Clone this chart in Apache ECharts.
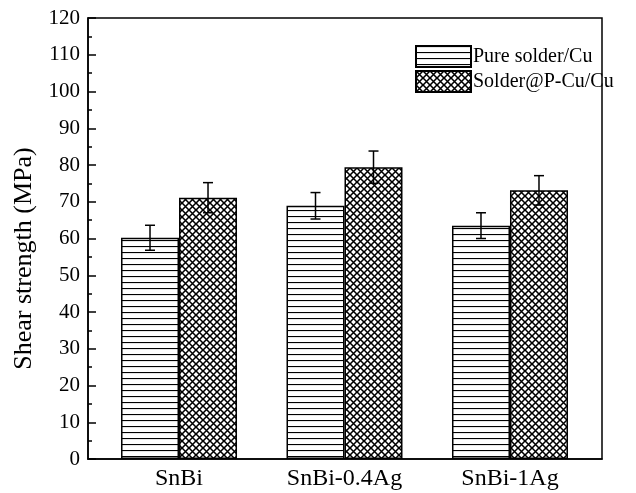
<!DOCTYPE html>
<html>
<head>
<meta charset="utf-8">
<script src="https://cdn.jsdelivr.net/npm/echarts@6/dist/echarts.min.js"></script>
<style>
html,body{margin:0;padding:0;background:#fff;}
#chart{width:636px;height:493px;}
</style>
</head>
<body>
<div id="chart"></div>
<script>
// ---- data ----
const categories = ['SnBi', 'SnBi-0.4Ag', 'SnBi-1Ag'];
const seriesNames = ['Pure solder/Cu', 'Solder@P-Cu/Cu'];
const pureValues = [60.2, 68.9, 63.5];
const pureErrors = [3.4, 3.6, 3.5];
const coatedValues = [71.1, 79.4, 73.1];
const coatedErrors = [4.1, 4.4, 4.0];
const yTicks = [0, 10, 20, 30, 40, 50, 60, 70, 80, 90, 100, 110, 120];

// ---- style ----
const FONT = '"Liberation Serif", "Times New Roman", serif';
const BAR_WIDTH = 58;

function hLinePattern() {
  const c = document.createElement('canvas');
  c.width = 6; c.height = 6;
  const g = c.getContext('2d');
  g.fillStyle = '#fff'; g.fillRect(0, 0, 6, 6);
  g.strokeStyle = '#000'; g.lineWidth = 1.2;
  g.beginPath(); g.moveTo(0, 0.5); g.lineTo(6, 0.5); g.stroke();
  return c;
}
function crossPattern() {
  const s = 7;
  const c = document.createElement('canvas');
  c.width = s; c.height = s;
  const g = c.getContext('2d');
  g.fillStyle = '#fff'; g.fillRect(0, 0, s, s);
  g.strokeStyle = '#000'; g.lineWidth = 1.55;
  g.beginPath();
  g.moveTo(-1, -1); g.lineTo(s + 1, s + 1);
  g.moveTo(s + 1, -1); g.lineTo(-1, s + 1);
  g.stroke();
  return c;
}
const pureFill = { image: hLinePattern(), repeat: 'repeat' };
const crossFill = { image: crossPattern(), repeat: 'repeat' };

const pureData = pureValues.map((v, i) => [i + 1, v]);
const coatedData = coatedValues.map((v, i) => [i + 1, v]);
const errData = [];
pureValues.forEach((v, i) => errData.push([i + 1, v - pureErrors[i], v + pureErrors[i], -1]));
coatedValues.forEach((v, i) => errData.push([i + 1, v - coatedErrors[i], v + coatedErrors[i], 1]));

const chart = echarts.init(document.getElementById('chart'), null, { renderer: 'canvas' });
chart.setOption({
  animation: false,
  backgroundColor: '#fff',
  textStyle: { fontFamily: FONT, color: '#000' },
  grid: {
    left: 88, right: 34, top: 18, bottom: 34,
    show: true, borderColor: '#000', borderWidth: 1.5, backgroundColor: 'transparent'
  },
  legend: {
    orient: 'vertical',
    left: 410, top: 40,
    icon: 'rect',
    itemWidth: 55, itemHeight: 21, itemGap: 2,
    textStyle: { fontFamily: FONT, fontSize: 20, color: '#000', padding: [0, 0, 0, -3] },
    data: seriesNames
  },
  xAxis: {
    type: 'value',
    min: 0.45, max: 3.556,
    splitLine: { show: false },
    axisLine: { lineStyle: { color: '#000', width: 1.5 } },
    axisTick: { show: false },
    axisLabel: {
      customValues: [1, 2, 3],
      formatter: v => categories[Math.round(v) - 1],
      fontFamily: FONT, fontSize: 24, color: '#000', margin: 8
    }
  },
  yAxis: {
    type: 'value',
    min: 0, max: 120, interval: 10,
    name: 'Shear strength (MPa)',
    nameLocation: 'middle',
    nameGap: 50,
    nameTextStyle: { fontFamily: FONT, fontSize: 26, color: '#000', padding: [0, 40, 0, 0] },
    splitLine: { show: false },
    axisLine: { show: true, lineStyle: { color: '#000', width: 1.5 } },
    axisTick: { show: true, inside: true, length: 8, lineStyle: { color: '#000', width: 1.5 } },
    minorTick: { show: true, splitNumber: 2, length: 4, lineStyle: { color: '#000', width: 1.5 } },
    axisLabel: {
      fontFamily: FONT, fontSize: 21, color: '#000', margin: 8,
      customValues: yTicks
    }
  },
  series: [
    {
      name: seriesNames[0], type: 'bar', data: pureData,
      barWidth: BAR_WIDTH, barGap: '0%',
      itemStyle: { color: pureFill, borderColor: '#000', borderWidth: 1.5 }
    },
    {
      name: seriesNames[1], type: 'bar', data: coatedData,
      barWidth: BAR_WIDTH, barGap: '0%',
      itemStyle: { color: crossFill, borderColor: '#000', borderWidth: 1.5 }
    },
    {
      type: 'custom', data: errData, z: 10,
      encode: { x: 0, y: [1, 2] },
      renderItem: function (params, api) {
        const x = api.value(0), lo = api.value(1), hi = api.value(2), side = api.value(3);
        const pLo = api.coord([x, lo]);
        const pHi = api.coord([x, hi]);
        const cx = pLo[0] + side * BAR_WIDTH / 2;
        const cap = 5;
        const st = { stroke: '#000', lineWidth: 1.5, fill: null };
        return {
          type: 'group',
          children: [
            { type: 'line', shape: { x1: cx, y1: pLo[1], x2: cx, y2: pHi[1] }, style: st },
            { type: 'line', shape: { x1: cx - cap, y1: pLo[1], x2: cx + cap, y2: pLo[1] }, style: st },
            { type: 'line', shape: { x1: cx - cap, y1: pHi[1], x2: cx + cap, y2: pHi[1] }, style: st }
          ]
        };
      }
    }
  ]
});
</script>
</body>
</html>
